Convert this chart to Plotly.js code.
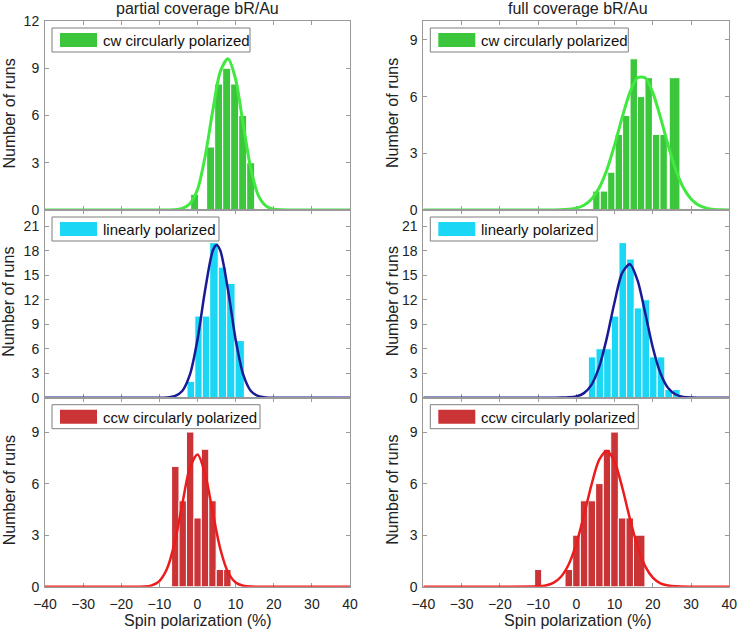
<!DOCTYPE html>
<html>
<head>
<meta charset="utf-8">
<script src="https://cdn.plot.ly/plotly-3.0.1.min.js"></script>
<style>
  html, body { margin: 0; padding: 0; background: #fff; }
  #chart { width: 738px; height: 630px; }
</style>
</head>
<body>
<div id="chart"></div>
<script>
// ─────────────────────────────
// DATA
// ─────────────────────────────
const columnTitles = ['partial coverage bR/Au', 'full coverage bR/Au'];
const legendNames = ['cw circularly polarized', 'linearly polarized', 'ccw circularly polarized'];
const xTickVals = [-40, -30, -20, -10, 0, 10, 20, 30, 40];

// partial coverage · cw
const pcCwLo    = [-1.8, 2.4, 4.5, 6.6, 8.7, 10.8, 12.9];
const pcCwHi    = [0.3, 4.5, 6.6, 8.7, 10.8, 12.9, 15.0];
const pcCwCount = [1, 4, 8, 9, 8, 6, 3];
const pcCwFitX  = [-40, -20, -8, -6, -4, -2, 0, 2, 4, 6, 8, 10, 12, 14, 16, 18, 20, 22, 26, 40];
const pcCwFitY  = [0, 0, 0, 0.01, 0.1, 0.4, 1.3, 3.4, 6.3, 8.8, 9.6, 8.3, 5.4, 2.6, 0.9, 0.25, 0.05, 0.01, 0, 0];

// full coverage · cw
const fcCwLo    = [4.3, 6.25, 8.2, 10.15, 12.1, 14.05, 16.0, 17.95, 19.9, 21.85, 24.3];
const fcCwHi    = [6.25, 8.2, 10.15, 12.1, 14.05, 16.0, 17.95, 19.9, 21.85, 23.8, 27.1];
const fcCwCount = [1, 1, 2, 4, 5, 8, 6, 7, 4, 4, 7];
const fcCwFitX  = [-40, -20, -6, -4, -2, 0, 2, 4, 6, 8, 10, 12, 14, 16, 18, 20, 22, 24, 26, 28, 30, 32, 34, 36, 38, 40];
const fcCwFitY  = [0, 0, 0, 0.01, 0.04, 0.1, 0.25, 0.58, 1.18, 2.13, 3.43, 4.9, 6.21, 7.0, 7.0, 6.21, 4.9, 3.43, 2.13, 1.18, 0.58, 0.25, 0.1, 0.03, 0.01, 0];

// partial coverage · linear
const pcLinLo    = [-2.75, -0.7, 1.25, 3.2, 5.45, 7.65, 9.85];
const pcLinHi    = [-0.7, 1.25, 3.2, 5.45, 7.65, 9.85, 12.3];
const pcLinCount = [2, 10, 10, 19, 16, 14, 7];
const pcLinFitX  = [-40, -20, -10, -8, -6, -4, -2, 0, 2, 4, 5, 6, 8, 10, 12, 14, 16, 18, 20, 30, 40];
const pcLinFitY  = [0, 0, 0, 0.03, 0.18, 0.82, 2.82, 7.13, 13.2, 18.0, 18.7, 18.0, 13.2, 7.13, 2.82, 0.82, 0.18, 0.03, 0, 0, 0];

// full coverage · linear
const fcLinLo    = [3.15, 5.15, 7.15, 9.15, 11.15, 13.15, 15.15, 17.15, 19.15, 21.15, 23.15, 25.15];
const fcLinHi    = [5.15, 7.15, 9.15, 11.15, 13.15, 15.15, 17.15, 19.15, 21.15, 23.15, 25.15, 27.15];
const fcLinCount = [5, 6, 6, 10, 19, 17, 11, 12, 5, 5, 1, 1];
const fcLinFitX  = [-40, -20, -6, -4, -2, 0, 2, 4, 6, 8, 10, 12, 14, 16, 18, 20, 22, 24, 26, 28, 30, 32, 40];
const fcLinFitY  = [0, 0, 0.005, 0.01, 0.04, 0.16, 0.56, 1.61, 3.8, 7.36, 11.7, 15.3, 16.36, 14.4, 10.4, 6.15, 3.0, 1.19, 0.39, 0.1, 0.02, 0, 0];

// partial coverage · ccw
const pcCcwLo    = [-6.8, -4.85, -2.9, -0.95, 1.0, 2.95, 4.9, 6.85];
const pcCcwHi    = [-4.85, -2.9, -0.95, 1.0, 2.95, 4.9, 6.85, 8.8];
const pcCcwCount = [7, 5, 9, 4, 8, 5, 1, 1];
const pcCcwFitX  = [-40, -20, -14, -12, -10, -8, -6, -4, -2, 0, 2, 4, 6, 8, 10, 12, 14, 20, 40];
const pcCcwFitY  = [0, 0, 0.01, 0.08, 0.33, 1.04, 2.55, 4.79, 6.92, 7.69, 6.57, 4.31, 2.18, 0.84, 0.25, 0.06, 0.01, 0, 0];

// full coverage · ccw
const fcCcwLo    = [-10.9, -2.95, -0.95, 1.05, 3.05, 5.05, 7.05, 9.0, 11.0, 13.0, 14.95];
const fcCcwHi    = [-9.05, -0.95, 1.05, 3.05, 5.05, 7.05, 9.0, 11.0, 13.0, 14.95, 17.95];
const fcCcwCount = [1, 1, 3, 5, 5, 6, 8, 9, 4, 4, 3];
const fcCcwFitX  = [-40, -20, -10, -8, -6, -4, -2, 0, 2, 4, 6, 8, 10, 12, 14, 16, 18, 20, 22, 24, 26, 30, 40];
const fcCcwFitY  = [0, 0, 0.02, 0.07, 0.22, 0.58, 1.29, 2.49, 4.15, 5.96, 7.39, 7.9, 7.28, 5.79, 3.97, 2.35, 1.2, 0.53, 0.2, 0.07, 0.02, 0, 0];

// ─────────────────────────────
// STYLE / LAYOUT
// ─────────────────────────────
const W = 738, H = 630;
const FONT = 'Liberation Sans, Arial, sans-serif';
const FRAME = '#9a9a9a';

const colLeft = [45, 423.3];
const colRight = [350, 729.3];
const rowTop = [21, 210, 397.7];
const rowBottom = [210, 397.7, 586.7];

const rowStyle = [
  { bar: 'rgb(60,198,60)',  fit: 'rgb(64,232,64)',  fitWidth: 3,   boxW: 198 },
  { bar: 'rgb(28,214,245)', fit: 'rgb(26,26,150)',  fitWidth: 2.5, boxW: 167 },
  { bar: 'rgb(203,52,54)',  fit: 'rgb(236,28,28)',  fitWidth: 2.5, boxW: 208 }
];

const yRanges = [[0, 12], [0, 10], [0, 23], [0, 23], [0, 11], [0, 11]];

const panels = [
  { lo: pcCwLo,  hi: pcCwHi,  n: pcCwCount,  fx: pcCwFitX,  fy: pcCwFitY },
  { lo: fcCwLo,  hi: fcCwHi,  n: fcCwCount,  fx: fcCwFitX,  fy: fcCwFitY },
  { lo: pcLinLo, hi: pcLinHi, n: pcLinCount, fx: pcLinFitX, fy: pcLinFitY },
  { lo: fcLinLo, hi: fcLinHi, n: fcLinCount, fx: fcLinFitX, fy: fcLinFitY },
  { lo: pcCcwLo, hi: pcCcwHi, n: pcCcwCount, fx: pcCcwFitX, fy: pcCcwFitY },
  { lo: fcCcwLo, hi: fcCcwHi, n: fcCcwCount, fx: fcCcwFitX, fy: fcCcwFitY }
];

const px = x => x / W;
const py = y => 1 - y / H;

const traces = [];
const layout = {
  width: W, height: H,
  margin: { l: 0, r: 0, t: 0, b: 0 },
  paper_bgcolor: '#fff',
  plot_bgcolor: '#fff',
  showlegend: false,
  barmode: 'overlay',
  font: { family: FONT, size: 14, color: '#222' },
  shapes: [],
  annotations: []
};

panels.forEach((p, i) => {
  const row = Math.floor(i / 2);
  const col = i % 2;
  const sfx = i === 0 ? '' : String(i + 1);
  const st = rowStyle[row];

  traces.push({
    type: 'bar',
    x: p.lo.map((l, k) => (l + p.hi[k]) / 2),
    y: p.n,
    width: p.lo.map((l, k) => p.hi[k] - l),
    marker: { color: st.bar, line: { color: '#fff', width: 1 } },
    xaxis: 'x' + sfx, yaxis: 'y' + sfx,
    hoverinfo: 'skip'
  });

  traces.push({
    type: 'scatter', mode: 'lines',
    x: p.fx, y: p.fy,
    line: { color: st.fit, width: st.fitWidth, shape: 'spline', smoothing: 0.8 },
    xaxis: 'x' + sfx, yaxis: 'y' + sfx,
    hoverinfo: 'skip'
  });

  const L = colLeft[col], R = colRight[col], T = rowTop[row], B = rowBottom[row];

  layout['xaxis' + sfx] = {
    domain: [px(L), px(R)],
    anchor: 'y' + sfx,
    range: [-40, 40],
    tickvals: xTickVals,
    ticks: 'inside', ticklen: 4, tickcolor: FRAME, tickwidth: 1,
    showline: true, linecolor: FRAME, linewidth: 1, mirror: 'ticks',
    showgrid: false, zeroline: false,
    showticklabels: row === 2,
    tickfont: { size: 14, color: '#222' },
    ticklabelstandoff: 4,
    layer: 'below traces',
    fixedrange: true
  };
  layout['yaxis' + sfx] = {
    domain: [py(B), py(T)],
    anchor: 'x' + sfx,
    range: yRanges[i],
    dtick: 3, tick0: 0,
    ticks: 'inside', ticklen: 4, tickcolor: FRAME, tickwidth: 1,
    showline: true, linecolor: FRAME, linewidth: 1, mirror: 'ticks',
    showgrid: false, zeroline: false,
    tickfont: { size: 14, color: '#222' },
    ticklabelstandoff: 2,
    layer: 'below traces',
    fixedrange: true
  };

  // legend box + swatch + label
  layout.shapes.push({
    type: 'rect', xref: 'paper', yref: 'paper', layer: 'above',
    x0: px(L + 7), x1: px(L + 7 + st.boxW), y0: py(T + 31), y1: py(T + 7),
    line: { color: '#7f7f7f', width: 1 }, fillcolor: '#fff'
  });
  layout.shapes.push({
    type: 'rect', xref: 'paper', yref: 'paper', layer: 'above',
    x0: px(L + 15), x1: px(L + 52), y0: py(T + 26), y1: py(T + 12),
    line: { width: 0 }, fillcolor: st.bar
  });
  layout.annotations.push({
    xref: 'paper', yref: 'paper', x: px(L + 56), y: py(T + 19.5),
    xanchor: 'left', yanchor: 'middle', showarrow: false,
    text: legendNames[row], font: { size: 15, color: '#111' }
  });

  // y title per panel
  layout.annotations.push({
    xref: 'paper', yref: 'paper', x: px(col === 0 ? 9 : 392.5), y: py((T + B) / 2 - 2),
    xanchor: 'center', yanchor: 'middle', showarrow: false, textangle: -90,
    text: 'Number of runs', font: { size: 16, color: '#222' }
  });
});

// column titles and x titles
[0, 1].forEach(col => {
  const cx = col === 0 ? 197.5 : 578;
  layout.annotations.push({
    xref: 'paper', yref: 'paper', x: px(cx), y: py(8.5),
    xanchor: 'center', yanchor: 'middle', showarrow: false,
    text: columnTitles[col], font: { size: 16, color: '#222' }
  });
  layout.annotations.push({
    xref: 'paper', yref: 'paper', x: px(cx), y: py(620),
    xanchor: 'center', yanchor: 'middle', showarrow: false,
    text: 'Spin polarization (%)', font: { size: 16, color: '#222' }
  });
});

Plotly.newPlot('chart', traces, layout, { displayModeBar: false, staticPlot: true });
</script>
</body>
</html>
